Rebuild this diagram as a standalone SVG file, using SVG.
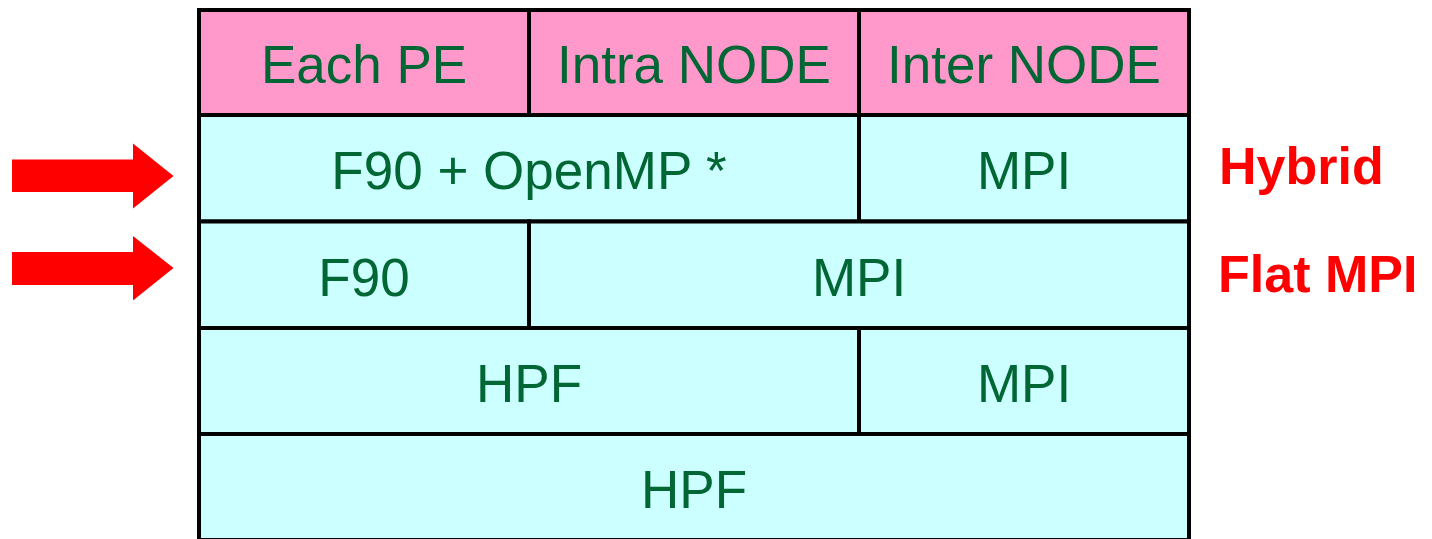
<svg xmlns="http://www.w3.org/2000/svg" width="1432" height="539" viewBox="0 0 1432 539">
<style>
.h{fill:#FF99CC;stroke:#000;stroke-width:4}
.c{fill:#CCFFFF;stroke:#000;stroke-width:4}
.t{font-family:"Liberation Sans",Arial,sans-serif;font-size:53px;fill:#006633;text-anchor:middle}
.r{font-family:"Liberation Sans",Arial,sans-serif;font-size:52px;font-weight:bold;fill:#FF0000}
.a{fill:#FF0000}
</style>
<rect width="1432" height="539" fill="#fff"/>
<g id="header">
<g id="each-pe"><rect class="h" x="199" y="10" width="330" height="105"/><text class="t" x="364" y="83">Each PE</text></g>
<g id="intra-node"><rect class="h" x="529" y="10" width="330" height="105"/><text class="t" x="694" y="83">Intra NODE</text></g>
<g id="inter-node"><rect class="h" x="859" y="10" width="330" height="105"/><text class="t" x="1024" y="83">Inter NODE</text></g>
</g>
<g id="row-hybrid">
<g id="f90-openmp"><rect class="c" x="199" y="115" width="660" height="106.5"/><text class="t" x="529" y="189">F90 + OpenMP *</text></g>
<g id="mpi-1"><rect class="c" x="859" y="115" width="330" height="106.5"/><text class="t" x="1024" y="189">MPI</text></g>
</g>
<g id="row-flat">
<g id="f90"><rect class="c" x="199" y="221.5" width="330" height="106.5"/><text class="t" x="364" y="296">F90</text></g>
<g id="mpi-2"><rect class="c" x="529" y="221.5" width="660" height="106.5"/><text class="t" x="859" y="296">MPI</text></g>
</g>
<g id="row-hpf-mpi">
<g id="hpf-1"><rect class="c" x="199" y="328" width="660" height="106"/><text class="t" x="529" y="402">HPF</text></g>
<g id="mpi-3"><rect class="c" x="859" y="328" width="330" height="106"/><text class="t" x="1024" y="402">MPI</text></g>
</g>
<g id="row-hpf">
<g id="hpf-2"><rect class="c" x="199" y="434" width="990" height="106"/><text class="t" x="694" y="508">HPF</text></g>
</g>
<g id="connectors">
<polygon class="a" points="12,159.5 133,159.5 133,143.5 173.5,176 133,208.5 133,192 12,192"/>
<polygon class="a" points="12,252 133,252 133,236 173.5,268 133,300.5 133,285 12,285"/>
</g>
<g id="labels">
<text class="r" x="1219" y="184">Hybrid</text>
<text class="r" x="1218" y="292">Flat MPI</text>
</g>
</svg>
